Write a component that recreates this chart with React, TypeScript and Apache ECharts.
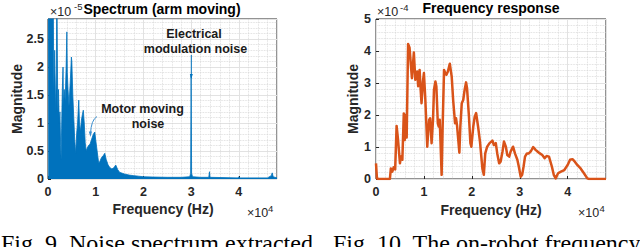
import React, { useEffect, useRef } from "react";
import * as echarts from "echarts";

// Left: noise spectrum (arm moving); frequency in Hz, magnitude in units of 1e-5
const freqL = [0, 50, 1100, 1200, 1400, 1600, 1750, 1850, 1950, 2050, 2200, 2350, 2500, 2650, 2750, 2850, 3000, 3150, 3250, 3400, 3600, 3800, 3950, 4050, 4200, 4400, 4700, 4900, 5000, 5200, 5400, 5600, 5800, 6000, 6200, 6450, 6600, 6800, 7000, 7200, 7400, 7600, 7800, 8000, 8200, 8500, 8800, 9100, 9500, 9800, 10000, 10300, 10600, 10800, 11200, 11600, 11900, 12200, 12600, 13000, 13400, 13800, 14200, 14600, 15000, 16000, 17000, 18000, 19000, 20000, 22000, 25000, 28000, 29700, 29900, 30000, 30100, 30300, 32000, 33700, 33850, 33950, 39800, 40000, 40200, 46000, 46800, 47000, 47200, 48000];
const magL = [3.5, 3.5, 3.5, 1.6, 2.3, 1.2, 1.9, 3.5, 3.5, 1.2, 1.6, 1.0, 1.2, 0.6, 0.35, 0.9, 1.6, 2.0, 1.3, 1.6, 1.4, 2.0, 2.63, 1.9, 1.6, 1.3, 1.8, 2.18, 2.1, 1.5, 1.1, 0.7, 0.45, 0.8, 1.0, 1.41, 1.0, 0.85, 1.05, 1.15, 1.23, 1.0, 0.65, 0.5, 0.55, 0.6, 0.62, 0.7, 0.8, 0.84, 0.7, 0.5, 0.3, 0.3, 0.38, 0.42, 0.46, 0.35, 0.25, 0.2, 0.18, 0.2, 0.25, 0.17, 0.12, 0.09, 0.07, 0.06, 0.05, 0.04, 0.035, 0.03, 0.03, 0.04, 0.1, 1.85, 0.1, 0.04, 0.03, 0.03, 0.13, 0.03, 0.02, 0.04, 0.02, 0.02, 0.06, 0.11, 0.04, 0.02];

// Right: frequency response; frequency in Hz, magnitude in units of 1e-4
const freqR = [0, 200, 500, 2900, 3100, 3400, 3700, 4000, 4300, 4600, 5000, 5200, 5500, 5800, 6000, 6200, 6400, 6700, 7000, 7300, 7500, 7900, 8200, 8600, 8800, 9100, 9300, 9500, 9800, 10000, 10300, 10700, 10900, 11100, 11300, 11600, 11900, 12100, 12400, 12600, 12900, 13100, 13300, 13700, 13900, 14200, 14500, 14700, 15000, 15400, 15800, 16100, 16500, 16700, 16900, 17400, 17600, 17900, 18200, 18500, 18800, 19000, 19400, 19700, 19900, 20300, 20600, 20900, 21300, 21700, 22200, 22500, 22800, 23200, 23700, 24300, 24600, 25000, 25300, 25700, 26000, 26400, 26700, 27100, 27400, 27800, 28100, 28600, 29000, 29500, 29800, 30200, 30500, 30800, 31100, 31500, 31900, 32300, 32800, 33300, 33700, 34200, 34700, 35200, 35600, 36100, 36700, 37100, 37500, 38000, 38600, 39300, 40000, 40500, 41000, 41500, 42000, 42700, 43400, 44100, 44500, 48000];
const magR = [0.49, 0.02, 0, 0, 0.33, 0.23, 0.37, 0.3, 1.66, 1.22, 0.49, 0.7, 0.6, 2.05, 1.22, 2.0, 1.3, 4.22, 4.1, 3.52, 3.15, 3.95, 3.1, 3.36, 2.9, 3.41, 2.84, 2.37, 3.05, 3.31, 2.47, 1.01, 1.5, 1.85, 1.9, 1.12, 1.85, 2.79, 3.05, 2.89, 1.74, 1.64, 1.85, 0.13, 1.6, 3.41, 3.3, 3.26, 3.36, 3.6, 3.2, 2.47, 1.74, 1.9, 1.69, 0.82, 1.64, 2.37, 2.47, 2.79, 3.02, 2.84, 1.95, 1.12, 1.01, 1.64, 1.95, 2.06, 1.64, 1.17, 0.33, 0.13, 0.8, 1.01, 1.12, 1.2, 1.06, 1.12, 0.8, 0.49, 0.54, 0.86, 1.17, 1.01, 0.75, 0.7, 0.86, 1.01, 0.8, 0.6, 0.39, 0.07, 0.13, 0.39, 0.7, 0.8, 0.8, 0.86, 1.0, 0.91, 0.86, 0.8, 0.75, 0.65, 0.72, 0.7, 0.39, 0.13, 0.02, 0.18, 0.23, 0.28, 0.44, 0.6, 0.62, 0.54, 0.44, 0.33, 0.18, 0.02, 0, 0];

const xTicks = [0, 1, 2, 3, 4];

const FONT = "Liberation Sans, Arial, sans-serif";
const SERIF = "Liberation Serif, Times New Roman, serif";
const AXC = "#262626";

function xAxisCfg(gridIndex: number) {
  return {
    type: "value" as const,
    gridIndex,
    min: 0,
    max: 48000,
    interval: 10000,
    axisLine: { show: false },
    axisTick: { show: true, inside: true, length: 3, lineStyle: { color: AXC } },
    axisLabel: {
      showMaxLabel: false,
      margin: 6,
      color: AXC,
      fontFamily: FONT,
      fontWeight: "bold" as const,
      fontSize: 12.5,
      formatter: (v: number) => String(xTicks[Math.round(v / 10000)] ?? v / 10000),
    },
    splitLine: { show: true, lineStyle: { color: "#e2e2e2", width: 1 } },
    minorTick: { show: false, splitNumber: 5 },
    minorSplitLine: { show: true, lineStyle: { color: "#d6d6d6", type: "dotted" as const, width: 0.8 } },
  };
}

function yAxisCfg(gridIndex: number, max: number, interval: number, margin: number) {
  return {
    type: "value" as const,
    gridIndex,
    min: 0,
    max,
    interval,
    axisLine: { show: false },
    axisTick: { show: true, inside: true, length: 3, lineStyle: { color: AXC } },
    axisLabel: {
      showMaxLabel: interval === 1,
      margin,
      color: AXC,
      fontFamily: FONT,
      fontWeight: "bold" as const,
      fontSize: 12.5,
    },
    splitLine: { show: true, lineStyle: { color: "#e2e2e2", width: 1 } },
    minorTick: { show: false, splitNumber: 5 },
    minorSplitLine: { show: true, lineStyle: { color: "#d6d6d6", type: "dotted" as const, width: 0.8 } },
  };
}

function txt(x: number, y: number, text: string, opts: any = {}) {
  return {
    type: "text",
    x,
    y,
    z: 100,
    style: {
      text,
      fill: opts.fill ?? "#000",
      fontFamily: opts.family ?? FONT,
      fontWeight: opts.bold === false ? "normal" : "bold",
      fontSize: opts.size ?? 14,
      textAlign: opts.align ?? "center",
      textVerticalAlign: opts.valign ?? "middle",
    },
  };
}

export default function App() {
  const ref = useRef<HTMLDivElement>(null);

  useEffect(() => {
    document.body.style.margin = "0";
    if (!ref.current) return;
    const chart = echarts.init(ref.current, null, { renderer: "svg" });
    const blue = "#0072BD";
    const orange = "#D95319";

    const graphic: any[] = [
      // titles
      txt(162, 9, "Spectrum (arm moving)", { size: 14 }),
      txt(491, 8, "Frequency response", { size: 14 }),
      // exponents top
      txt(50, 12, "×10", { bold: false, size: 12.5, align: "left", fill: AXC }),
      txt(74, 6.5, "-5", { bold: false, size: 9.5, align: "left", fill: AXC }),
      txt(377, 12, "×10", { bold: false, size: 12.5, align: "left", fill: AXC }),
      txt(400, 7, "-4", { bold: false, size: 9.5, align: "left", fill: AXC }),
      // exponents bottom
      txt(247, 212.5, "×10", { bold: false, size: 12.5, align: "left", fill: AXC }),
      txt(268, 208, "4", { bold: false, size: 9.5, align: "left", fill: AXC }),
      txt(578, 212.5, "×10", { bold: false, size: 12.5, align: "left", fill: AXC }),
      txt(599.5, 208, "4", { bold: false, size: 9.5, align: "left", fill: AXC }),
      // axis names
      txt(163, 209, "Frequency (Hz)", { size: 14, fill: AXC }),
      txt(491, 210, "Frequency (Hz)", { size: 14, fill: AXC }),
      {
        type: "text", x: 17, y: 99, rotation: Math.PI / 2, z: 100,
        style: { text: "Magnitude", fill: AXC, fontFamily: FONT, fontWeight: "bold", fontSize: 14, textAlign: "center", textVerticalAlign: "middle" },
      },
      {
        type: "text", x: 353, y: 99, rotation: Math.PI / 2, z: 100,
        style: { text: "Magnitude", fill: AXC, fontFamily: FONT, fontWeight: "bold", fontSize: 14, textAlign: "center", textVerticalAlign: "middle" },
      },
      // annotations
      txt(194, 33.5, "Electrical", { size: 12.5, fill: "#1a1a1a" }),
      txt(195.5, 49, "modulation noise", { size: 12.5, fill: "#1a1a1a" }),
      txt(142.5, 109, "Motor moving", { size: 12.5, fill: "#1a1a1a" }),
      txt(148, 124, "noise", { size: 12.5, fill: "#1a1a1a" }),
      {
        type: "line", z: 90,
        shape: { x1: 191.3, y1: 55, x2: 191.3, y2: 78 },
        style: { stroke: blue, lineWidth: 1 },
      },
      {
        type: "polygon", z: 90,
        shape: { points: [[189.8, 74], [192.8, 74], [191.3, 79]] },
        style: { fill: blue },
      },
      {
        type: "bezierCurve", z: 90,
        shape: { x1: 97, y1: 116.5, cpx1: 91, cpy1: 120, x2: 90.5, y2: 134 },
        style: { stroke: "#3b8fd0", lineWidth: 1, fill: "none" },
      },
      {
        type: "polygon", z: 90,
        shape: { points: [[88.8, 131.5], [92, 131.5], [90.4, 137]] },
        style: { fill: "#3b8fd0" },
      },
      // captions (cut off at the bottom edge, as in the source image)
      {
        type: "text", x: 1, y: 243, z: 100,
        style: { text: "Fig. 9. Noise spectrum extracted", fill: "#000", fontFamily: SERIF, fontSize: 24, textAlign: "left", textVerticalAlign: "middle" },
      },
      {
        type: "text", x: 333, y: 243, z: 100,
        style: { text: "Fig. 10. The on-robot frequency", fill: "#000", fontFamily: SERIF, fontSize: 24, textAlign: "left", textVerticalAlign: "middle" },
      },
    ];

    chart.setOption({
      animation: false,
      backgroundColor: "#ffffff",
      grid: [
        { left: 48, top: 19, width: 229, height: 160, show: true, borderColor: AXC, borderWidth: 1, backgroundColor: "transparent", containLabel: false },
        { left: 376, top: 19, width: 230, height: 160, show: true, borderColor: AXC, borderWidth: 1, backgroundColor: "transparent", containLabel: false },
      ],
      xAxis: [xAxisCfg(0), xAxisCfg(1)],
      yAxis: [yAxisCfg(0, 2.86, 0.5, 4), yAxisCfg(1, 5, 1, 5)],
      series: [
        {
          type: "line",
          xAxisIndex: 0,
          yAxisIndex: 0,
          data: freqL.map((f, i) => [f, magL[i]]),
          showSymbol: false,
          symbol: "none",
          lineStyle: { color: blue, width: 0.8 },
          areaStyle: { color: blue, opacity: 1 },
          clip: true,
          z: 3,
        },
        {
          type: "line",
          xAxisIndex: 1,
          yAxisIndex: 1,
          data: freqR.map((f, i) => [f, magR[i]]),
          showSymbol: false,
          symbol: "none",
          lineStyle: { color: orange, width: 2.5, join: "round" },
          clip: true,
          z: 3,
        },
      ],
      graphic,
    });
    return () => chart.dispose();
  }, []);

  return <div ref={ref} style={{ width: 640, height: 247 }} />;
}
